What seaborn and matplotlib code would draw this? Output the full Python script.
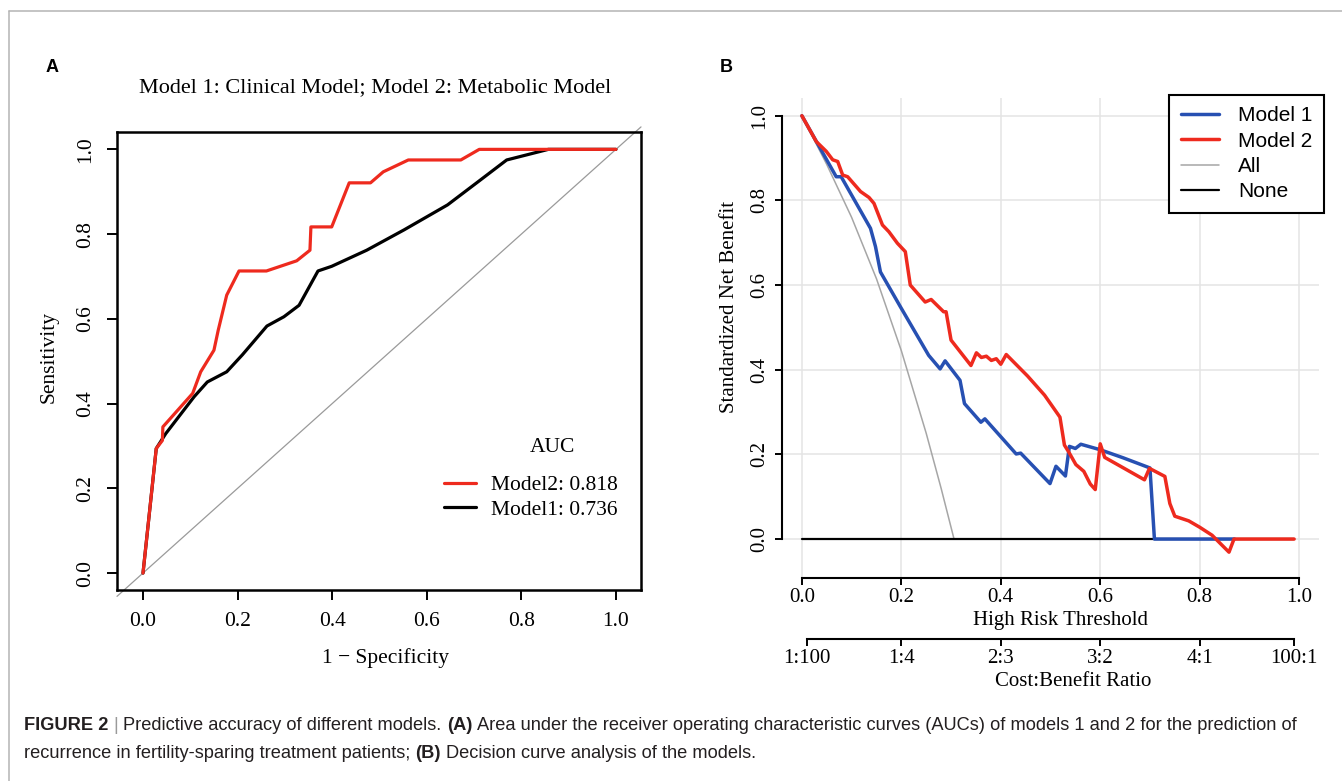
import matplotlib
matplotlib.use("Agg")
import matplotlib.pyplot as plt
from matplotlib import font_manager
from matplotlib.lines import Line2D
import seaborn as sns
import pandas as pd

# ---- panel A: ROC curves (x = 1 - specificity, y = sensitivity) ----
roc_title = "Model 1: Clinical Model; Model 2: Metabolic Model"
auc_labels = ["Model2: 0.818", "Model1: 0.736"]

m2_fpr = [0, 0.028, 0.041, 0.042, 0.105, 0.122, 0.15, 0.159, 0.177, 0.203, 0.261,
          0.325, 0.353, 0.355, 0.399, 0.436, 0.481, 0.508, 0.561, 0.672, 0.711, 1.0]
m2_tpr = [0, 0.294, 0.313, 0.345, 0.424, 0.475, 0.526, 0.573, 0.656, 0.713, 0.713,
          0.737, 0.762, 0.817, 0.817, 0.921, 0.921, 0.947, 0.975, 0.975, 1.0, 1.0]

m1_fpr = [0, 0.028, 0.048, 0.108, 0.136, 0.177, 0.21, 0.262, 0.298, 0.33, 0.37,
          0.399, 0.473, 0.552, 0.644, 0.709, 0.769, 0.857, 1.0]
m1_tpr = [0, 0.294, 0.329, 0.416, 0.451, 0.475, 0.515, 0.583, 0.605, 0.632, 0.713,
          0.724, 0.762, 0.81, 0.869, 0.924, 0.975, 1.0, 1.0]

# ---- panel B: decision curves (standardized net benefit) ----
dca_m1_t = [0, 0.035, 0.069, 0.079, 0.138, 0.148, 0.158, 0.198, 0.255, 0.278, 0.288,
            0.318, 0.327, 0.360, 0.368, 0.431, 0.440, 0.499, 0.511, 0.530, 0.538,
            0.550, 0.561, 0.600, 0.646, 0.700, 0.709, 0.87]
dca_m1_nb = [1.0, 0.927, 0.856, 0.856, 0.734, 0.691, 0.631, 0.549, 0.434, 0.402, 0.421,
             0.375, 0.320, 0.276, 0.284, 0.201, 0.203, 0.131, 0.172, 0.149, 0.219,
             0.214, 0.224, 0.211, 0.192, 0.168, 0.0, 0.0]

dca_m2_t = [0, 0.029, 0.049, 0.062, 0.072, 0.082, 0.092, 0.118, 0.135, 0.145, 0.162,
            0.175, 0.192, 0.208, 0.218, 0.248, 0.260, 0.285, 0.290, 0.300, 0.340,
            0.351, 0.361, 0.371, 0.381, 0.391, 0.400, 0.411, 0.454, 0.488, 0.519,
            0.528, 0.537, 0.551, 0.567, 0.580, 0.590, 0.600, 0.609, 0.689, 0.699,
            0.730, 0.740, 0.750, 0.778, 0.800, 0.825, 0.859, 0.869, 0.99]
dca_m2_nb = [1.0, 0.939, 0.916, 0.896, 0.892, 0.860, 0.856, 0.821, 0.807, 0.793, 0.742,
             0.726, 0.699, 0.679, 0.600, 0.560, 0.566, 0.537, 0.537, 0.470, 0.410,
             0.440, 0.429, 0.432, 0.422, 0.426, 0.413, 0.436, 0.385, 0.340, 0.288,
             0.222, 0.205, 0.176, 0.160, 0.130, 0.117, 0.225, 0.193, 0.140, 0.167,
             0.148, 0.084, 0.054, 0.043, 0.028, 0.009, -0.031, 0.0, 0.0]

dca_all_t = [0, 0.05, 0.1, 0.15, 0.2, 0.25, 0.28, 0.306]
dca_all_nb = [1.0, 0.885, 0.76, 0.615, 0.445, 0.25, 0.12, 0.0]

dca_none_t = [0, 0.99]
dca_none_nb = [0, 0]

unit_ticks = [0, 0.2, 0.4, 0.6, 0.8, 1.0]
cb_ticks = [0.01, 0.2, 0.4, 0.6, 0.8, 0.99]
cb_labels = ["1:100", "1:4", "2:3", "3:2", "4:1", "100:1"]

caption_line1 = [("FIGURE 2", "bold", "#231f20"), ("|", "normal", "#9a9a9a"),
                 ("Predictive accuracy of different models.", "normal", "#231f20"),
                 ("(A)", "bold", "#231f20"),
                 ("Area under the receiver operating characteristic curves (AUCs) of models 1 "
                  "and 2 for the prediction of", "normal", "#231f20")]
caption_line2 = [("recurrence in fertility-sparing treatment patients;", "normal", "#231f20"),
                 ("(B)", "bold", "#231f20"),
                 ("Decision curve analysis of the models.", "normal", "#231f20")]

RED = "#ee2a1e"
BLUE = "#2750b2"

sns.set_theme(style="white", rc={"text.color": "black", "axes.labelcolor": "black",
                                 "xtick.color": "black", "ytick.color": "black"})
plt.rcParams["font.family"] = ["Liberation Serif", "DejaVu Serif"]

W, H = 1342, 781
fig = plt.figure(figsize=(W / 100, H / 100), dpi=100)


def fx(px):
    return px / W


def fy(py):
    return 1 - py / H


# page frame
fig.add_artist(Line2D([fx(9), 1], [fy(11), fy(11)], color="#b4b4b4", lw=1.1))
fig.add_artist(Line2D([fx(9), fx(9)], [fy(11), 0], color="#b4b4b4", lw=1.1))

# ================= panel A =================
axA = fig.add_axes([fx(117), fy(590), (641 - 117) / W, (590 - 132) / H])
axA.set_xlim(-0.055, 1.053)
axA.set_ylim(-0.040, 1.041)

roc_df = pd.concat([
    pd.DataFrame({"fpr": m1_fpr, "tpr": m1_tpr, "model": auc_labels[1]}),
    pd.DataFrame({"fpr": m2_fpr, "tpr": m2_tpr, "model": auc_labels[0]}),
])
lo, hi = axA.get_xlim()
axA.plot([lo, hi], [lo, hi], color="#9a9a9a", lw=0.9, clip_on=False, zorder=1)
sns.lineplot(data=roc_df, x="fpr", y="tpr", hue="model",
             hue_order=[auc_labels[1], auc_labels[0]], palette=["black", RED],
             sort=False, estimator=None, lw=2.3, ax=axA)

for s in axA.spines.values():
    s.set_visible(True)
    s.set_color("black")
    s.set_linewidth(1.8)
axA.set_xticks(unit_ticks)
axA.set_yticks(unit_ticks)
axA.tick_params(direction="out", length=7.5, width=1.4, labelsize=15.5, pad=8,
                bottom=True, left=True)
plt.setp(axA.get_yticklabels(), rotation=90, va="center")
axA.set_xlabel("1 \u2212 Specificity", fontsize=15.5)
axA.set_ylabel("Sensitivity", fontsize=15.5)
axA.xaxis.set_label_coords(0.5115, -0.1266)
axA.yaxis.set_label_coords(-0.1107, 0.5087)

h, l = axA.get_legend_handles_labels()
order = [l.index(lbl) for lbl in auc_labels]
axA.legend([h[i] for i in order], auc_labels, loc="upper left",
           bbox_to_anchor=(fx(444), fy(475)), bbox_transform=fig.transFigure,
           frameon=False, borderpad=0, borderaxespad=0, handlelength=1.5,
           handletextpad=0.7, labelspacing=0.22,
           prop={"family": "Liberation Serif", "size": 15.5})
fig.text(fx(552), fy(447), "AUC", ha="center", va="center", fontsize=15.5)
fig.text(fx(375), fy(88), roc_title, ha="center", va="center", fontsize=16)

# ================= panel B =================
axB = fig.add_axes([fx(782), fy(578), (1319 - 782) / W, (578 - 98) / H])
axB.set_xlim(-0.04, 1.04)
axB.set_ylim(-0.092, 1.042)
axB.set_axisbelow(True)
axB.grid(True, color="#e4e4e4", lw=1.1)

sns.lineplot(x=dca_all_t, y=dca_all_nb, color="#a6a6a6", lw=1.1, label="All",
             sort=False, estimator=None, ax=axB)
sns.lineplot(x=dca_none_t, y=dca_none_nb, color="black", lw=1.6, label="None",
             sort=False, estimator=None, ax=axB)
sns.lineplot(x=dca_m1_t, y=dca_m1_nb, color=BLUE, lw=2.5, label="Model 1",
             sort=False, estimator=None, ax=axB)
sns.lineplot(x=dca_m2_t, y=dca_m2_nb, color=RED, lw=2.5, label="Model 2",
             sort=False, estimator=None, ax=axB)

axB.spines["top"].set_visible(False)
axB.spines["right"].set_visible(False)
for side in ["left", "bottom"]:
    axB.spines[side].set_visible(True)
    axB.spines[side].set_color("black")
    axB.spines[side].set_linewidth(1.5)
    axB.spines[side].set_bounds(0, 1)
axB.set_xticks(unit_ticks)
axB.set_yticks(unit_ticks)
axB.tick_params(direction="out", length=5, width=1.4, labelsize=15,
                bottom=True, left=True)
axB.tick_params(axis="x", pad=2)
axB.tick_params(axis="y", pad=4)
plt.setp(axB.get_yticklabels(), rotation=90, va="center")
axB.set_xlabel("High Risk Threshold", fontsize=15)
axB.set_ylabel("Standardized Net Benefit", fontsize=15)
axB.xaxis.set_label_coords(0.5185, -0.0690)
axB.yaxis.set_label_coords(-0.080, 0.5646)

sec = axB.secondary_xaxis(-0.1271)
sec.set_ticks(cb_ticks, labels=cb_labels)
sec.spines["bottom"].set_bounds(0.01, 0.99)
sec.spines["bottom"].set_linewidth(1.5)
sec.spines["bottom"].set_color("black")
sec.tick_params(direction="out", length=5, width=1.4, labelsize=15, pad=2)
sec.set_xlabel("Cost:Benefit Ratio", fontsize=15)
sec.xaxis.set_label_coords(0.5417, -0.1960, transform=axB.transAxes)

hb, lb = axB.get_legend_handles_labels()
leg_order = ["Model 1", "Model 2", "All", "None"]
leg = axB.legend([hb[lb.index(n)] for n in leg_order], leg_order, loc="upper right",
                 bbox_to_anchor=(fx(1324), fy(95)), bbox_transform=fig.transFigure,
                 borderaxespad=0, borderpad=0.55, handlelength=1.85,
                 handletextpad=0.9, labelspacing=0.3, fancybox=False,
                 framealpha=1, edgecolor="black",
                 prop={"family": ["Liberation Sans", "DejaVu Sans"], "size": 15})
leg.get_frame().set_linewidth(1.5)

# panel letters
for letter, px in [("A", 52), ("B", 726)]:
    fig.text(fx(px), fy(67), letter, ha="center", va="center", fontsize=13,
             fontweight="bold", family=["Liberation Sans", "DejaVu Sans"])

# ================= caption =================
available = {f.name for f in font_manager.fontManager.ttflist}
cap_family = "Liberation Sans Narrow" if "Liberation Sans Narrow" in available else "Liberation Sans"
renderer = fig.canvas.get_renderer()


def text_width(s, size, weight):
    t = fig.text(0, 0, s, fontsize=size, fontweight=weight, family=cap_family)
    w = t.get_window_extent(renderer).width
    t.remove()
    return w


def line_width(runs, size):
    gap = text_width("a a", size, "normal") - text_width("aa", size, "normal")
    return sum(text_width(s, size, wt) for s, wt, _ in runs) + gap * (len(runs) - 1)


cap_size = 13 * 1271 / line_width(caption_line1, 13)


def draw_runs(runs, x0, baseline):
    gap = text_width("a a", cap_size, "normal") - text_width("aa", cap_size, "normal")
    x = x0
    for s, wt, col in runs:
        t = fig.text(fx(x), fy(baseline), s, fontsize=cap_size, fontweight=wt,
                     color=col, family=cap_family, ha="left", va="baseline")
        x += t.get_window_extent(renderer).width + gap


draw_runs(caption_line1, 24, 730)
draw_runs(caption_line2, 24, 758)

fig.savefig("out.png", dpi=100)
